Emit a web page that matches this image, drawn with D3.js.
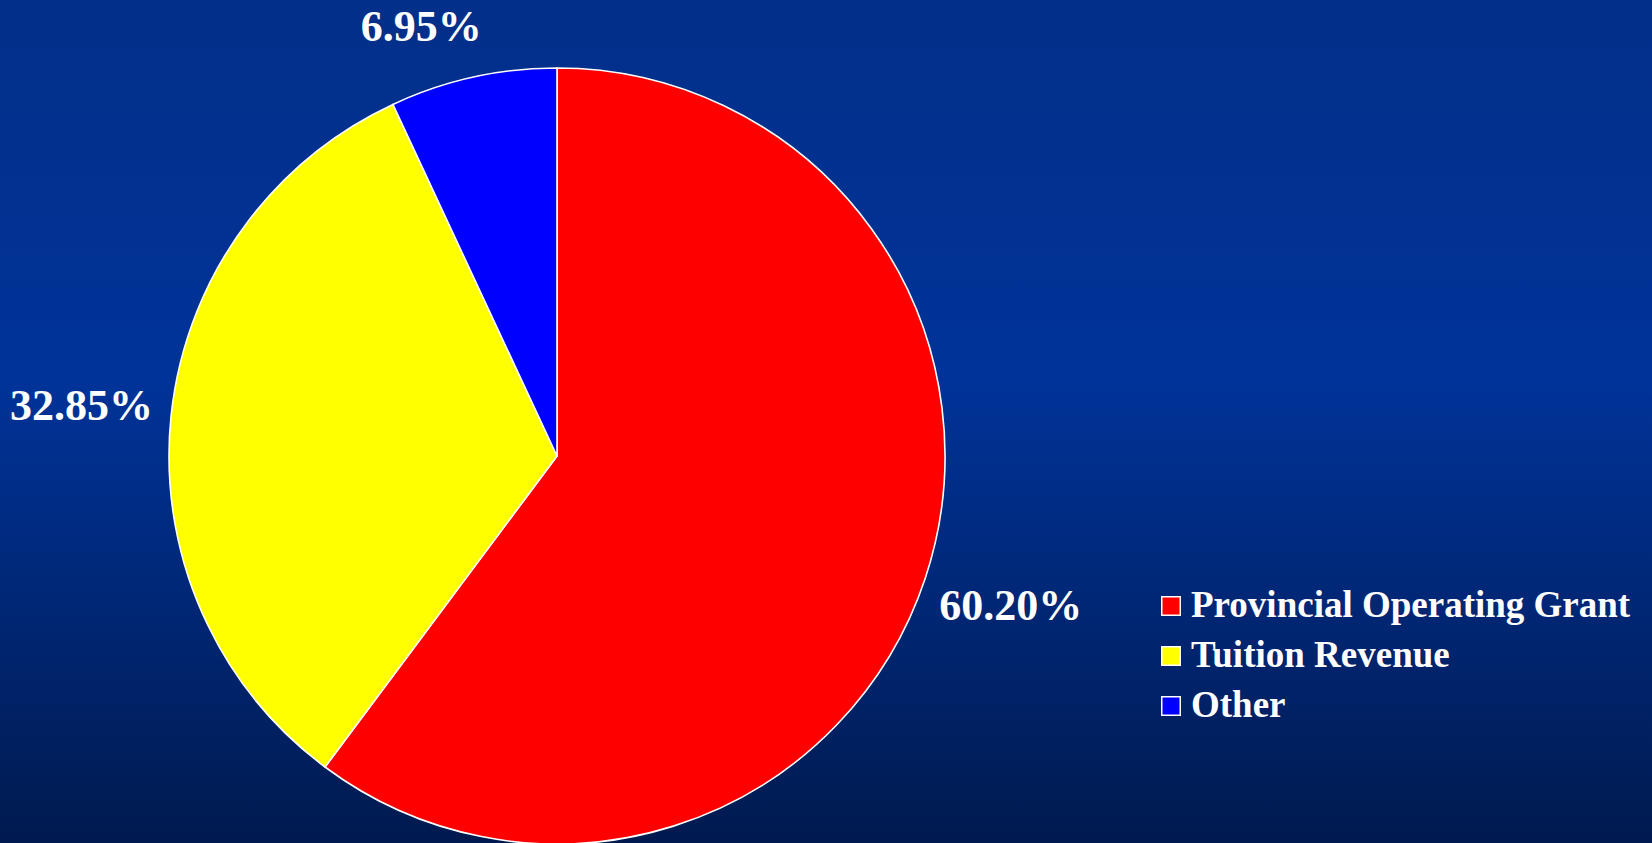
<!DOCTYPE html>
<html>
<head>
<meta charset="utf-8">
<script src="https://cdn.jsdelivr.net/npm/d3@7"></script>
<style>
html,body{margin:0;padding:0;overflow:hidden;}
svg{display:block;}
text{font-family:"Liberation Serif","Times New Roman",serif;font-weight:bold;fill:#ffffff;}
</style>
</head>
<body>
<svg id="chart" width="1652" height="843"></svg>
<script>
const categories = ["Provincial Operating Grant", "Tuition Revenue", "Other"];
const values = [60.20, 32.85, 6.95];
const labels = ["60.20%", "32.85%", "6.95%"];
const colors = ["#ff0000", "#ffff00", "#0000ff"];

const W = 1652, H = 843;
const svg = d3.select("#chart");

const defs = svg.append("defs");
const grad = defs.append("linearGradient").attr("id","bg").attr("x1",0).attr("y1",0).attr("x2",0).attr("y2",1);
grad.append("stop").attr("offset","0%").attr("stop-color","#022f89");
grad.append("stop").attr("offset","45%").attr("stop-color","#003399");
grad.append("stop").attr("offset","100%").attr("stop-color","#001a4f");
svg.append("rect").attr("width",W).attr("height",H).attr("fill","url(#bg)");

const cx = 557, cy = 456, r = 388;
const data = categories.map((c,i)=>({cat:c, value:values[i], label:labels[i], color:colors[i]}));

const pie = d3.pie().value(d=>d.value).sort(null);
const arc = d3.arc().innerRadius(0).outerRadius(r);
const arcs = pie(data);

const g = svg.append("g").attr("transform",`translate(${cx},${cy})`);
g.selectAll("path").data(arcs).enter().append("path")
  .attr("d",arc)
  .attr("fill",d=>d.data.color)
  .attr("stroke","#ffffff")
  .attr("stroke-width",1.6)
  .attr("stroke-linejoin","round");

// labels outside the slices
const labelR = r + 90;
g.selectAll("text.lbl").data(arcs).enter().append("text")
  .attr("class","lbl")
  .attr("text-anchor","middle")
  .attr("font-size",44)
  .attr("x",d=>{
    const a=(d.startAngle+d.endAngle)/2;
    let y = -Math.cos(a)*labelR;
    if (cy + y < 28) {
      return Math.sin(d.startAngle*0.68+d.endAngle*0.32)*labelR*0.97;
    }
    return Math.sin(a)*labelR;
  })
  .attr("y",d=>{
    const a=(d.startAngle+d.endAngle)/2;
    let y = -Math.cos(a)*labelR;
    y = Math.max(y, 28 - cy);
    return y + 13;
  })
  .text(d=>d.data.label);

// legend
const legend = svg.append("g").attr("transform","translate(1161,596)");
const rowY = d3.scalePoint().domain(categories).range([0,100]);
const items = legend.selectAll("g").data(data).enter().append("g")
  .attr("transform",d=>`translate(0,${rowY(d.cat)})`);
items.append("rect").attr("x",0.75).attr("y",0.75).attr("width",18.5).attr("height",18.5)
  .attr("fill",d=>d.color).attr("stroke","#ffffff").attr("stroke-width",1.5);
items.append("text").attr("x",30).attr("y",21).attr("font-size",37).text(d=>d.cat);
</script>
</body>
</html>
